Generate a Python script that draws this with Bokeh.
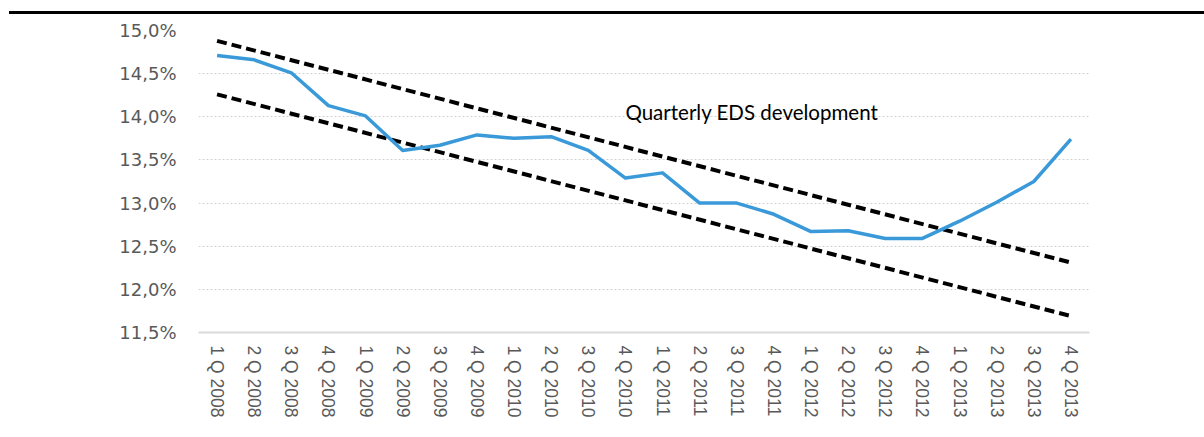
from bokeh.plotting import figure
from bokeh.models import FixedTicker, Label, Range1d, FactorRange, Div
from bokeh.layouts import column
from bokeh.embed import file_html
from bokeh.resources import INLINE

quarters = [f"{q} Q {y}" for y in range(2008, 2014) for q in range(1, 5)]
eds = [14.71, 14.66, 14.51, 14.13, 14.01, 13.61, 13.67, 13.79,
       13.75, 13.77, 13.61, 13.29, 13.35, 13.00, 13.00, 12.87,
       12.67, 12.68, 12.59, 12.59, 12.79, 13.01, 13.25, 13.74]
upper_trend = [14.88, 12.31]
lower_trend = [14.26, 11.69]
y_ticks = [11.5, 12.0, 12.5, 13.0, 13.5, 14.0, 14.5, 15.0]
y_tick_labels = ["11,5%", "12,0%", "12,5%", "13,0%", "13,5%", "14,0%", "14,5%", "15,0%"]
title_text = "Quarterly EDS development"

TOP = 16
p = figure(x_range=FactorRange(*quarters, range_padding=0),
           y_range=Range1d(11.5, 15.0),
           width=1204, height=437 - TOP, output_backend="svg", toolbar_location=None,
           min_border_left=198, min_border_right=115,
           min_border_top=30 - TOP, min_border_bottom=105)
p.outline_line_color = None
p.background_fill_color = "white"

# grid
p.xgrid.grid_line_color = None
p.ygrid.grid_line_color = "#d0d0d0"
p.ygrid.grid_line_dash = "2 2"
p.ygrid.grid_line_width = 1

# y axis
p.yaxis.ticker = FixedTicker(ticks=y_ticks)
p.yaxis.major_label_overrides = dict(zip(y_ticks, y_tick_labels))
p.yaxis.axis_line_color = None
p.yaxis.major_tick_line_color = None
p.yaxis.minor_tick_line_color = None
p.yaxis.major_tick_out = 0
p.yaxis.major_label_standoff = 22
p.yaxis.major_label_text_font = "DejaVu Sans"
p.yaxis.major_label_text_font_size = "18px"
p.yaxis.major_label_text_color = "#595959"

# x axis
p.xaxis.axis_line_color = "#d9d9d9"
p.xaxis.axis_line_width = 2
p.xaxis.major_tick_line_color = None
p.xaxis.major_tick_out = 0
p.xaxis.major_label_orientation = "vertical"
p.xaxis.major_label_standoff = 13
p.xaxis.major_label_text_font = "Liberation Sans"
p.xaxis.major_label_text_font_size = "17.5px"
p.xaxis.major_label_text_color = "#595959"

# trend lines
ends = [quarters[0], quarters[-1]]
p.line(ends, upper_trend, line_color="black", line_width=4, line_dash="10 5")
p.line(ends, lower_trend, line_color="black", line_width=4, line_dash="10 5")

# data line
p.line(quarters, eds, line_color="#3A9AD9", line_width=3.5, line_join="round")

# title-like label inside plot
p.add_layout(Label(x=11.5, y=14.06, text=title_text, text_align="left",
                   text_baseline="alphabetic", text_font="Lato",
                   text_font_size="20.5px", text_color="black"))

# top rule
rule = Div(text='<div style="margin:11px 0 0 9px;width:1195px;height:3px;background:#000"></div>',
           width=1204, height=TOP, margin=0)

layout = column(rule, p, spacing=0)
open("out.html", "w").write(file_html(layout, INLINE))
